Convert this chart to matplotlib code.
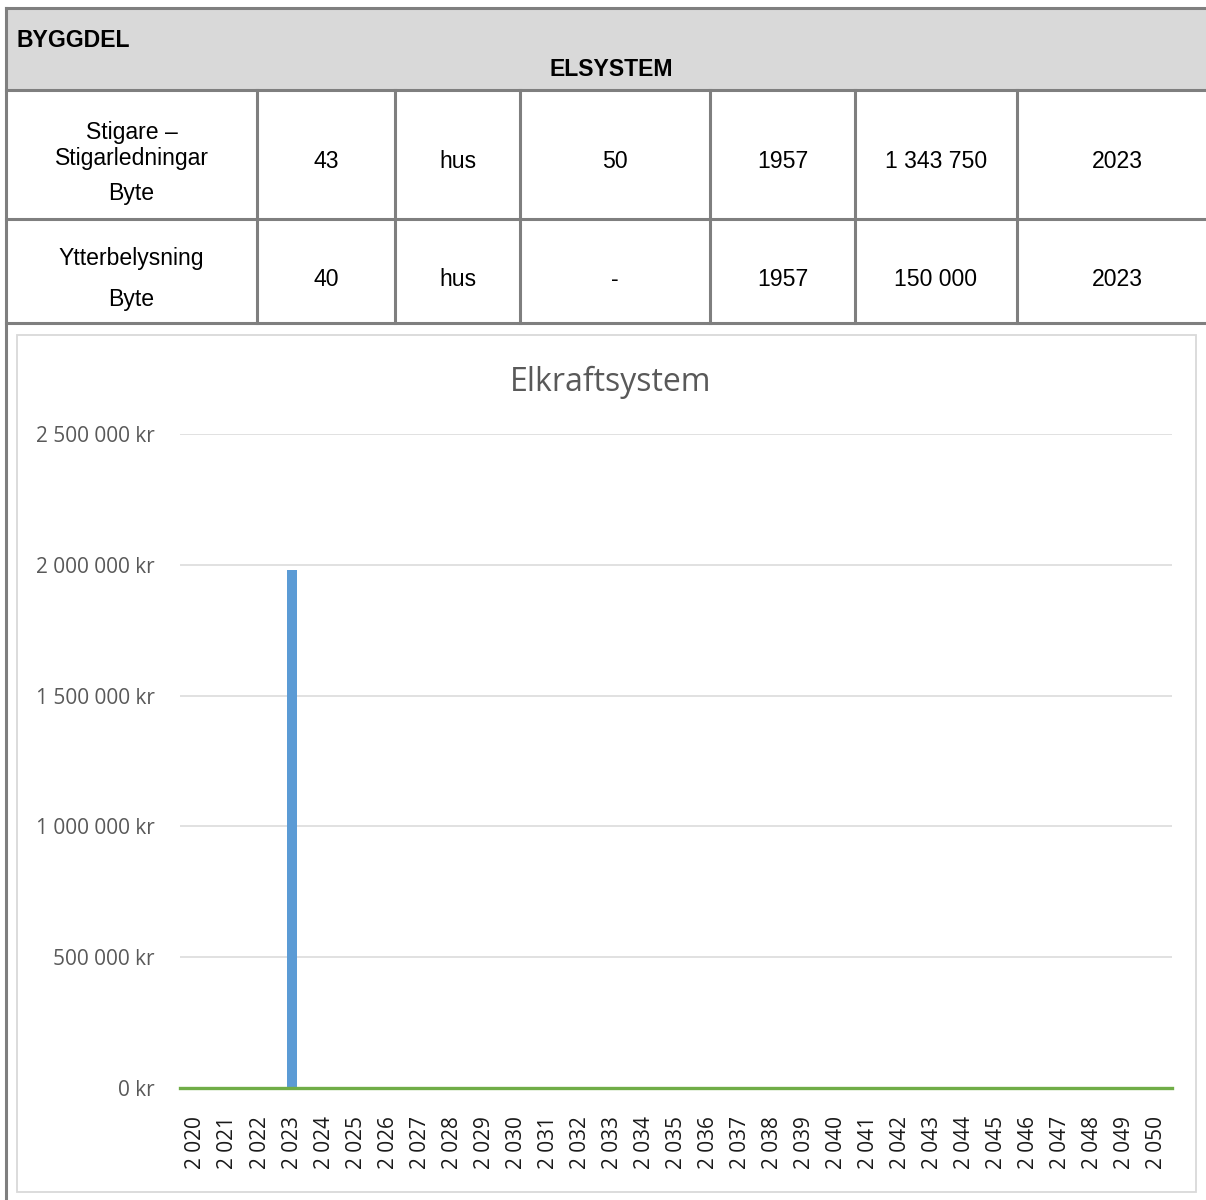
import matplotlib
matplotlib.use("Agg")
import matplotlib.pyplot as plt
from matplotlib.lines import Line2D
from matplotlib.patches import Rectangle

# ---- data ----
years = list(range(2020, 2051))
bar_values = [0, 0, 0, 1980000, 0, 0, 0, 0, 0, 0, 0,
              0, 0, 0, 0, 0, 0, 0, 0, 0, 0,
              0, 0, 0, 0, 0, 0, 0, 0, 0, 0]
y_ticks = [0, 500000, 1000000, 1500000, 2000000, 2500000]

header_left = "BYGGDEL"
header_center = "ELSYSTEM"
row_names = [["Stigare –", "Stigarledningar", "Byte"],
             ["Ytterbelysning", "Byte"]]
row_cells = [["43", "hus", "50", "1957", "1 343 750", "2023"],
             ["40", "hus", "-", "1957", "150 000", "2023"]]
chart_title = "Elkraftsystem"

W, H = 1206, 1200
fig = plt.figure(figsize=(W / 100, H / 100), dpi=100)
fig.patch.set_facecolor("white")


def fx(x):
    return x / W


def fy(y):
    return 1 - y / H


TABLE_LINE = "#7f7f7f"
LW = 2.2
TFONT = "Liberation Sans"
TSIZE = 16.6

# header band
fig.add_artist(Rectangle((fx(6), fy(90)), fx(1206) - fx(6), fy(8) - fy(90),
                         transform=fig.transFigure, facecolor="#d9d9d9",
                         edgecolor="none", zorder=0))

# horizontal rules
for y in [8, 90, 219, 323]:
    fig.add_artist(Line2D([fx(6), fx(1206)], [fy(y), fy(y)], color=TABLE_LINE,
                          lw=LW, transform=fig.transFigure))
# outer left rule
fig.add_artist(Line2D([fx(6), fx(6)], [fy(8), fy(1200)], color=TABLE_LINE,
                      lw=LW, transform=fig.transFigure))
# column rules
col_edges = [6, 257, 395, 520, 710, 855, 1017, 1218]
for x in col_edges[1:-1]:
    fig.add_artist(Line2D([fx(x), fx(x)], [fy(90), fy(323)], color=TABLE_LINE,
                          lw=LW, transform=fig.transFigure))

fig.text(fx(16), fy(47), header_left, ha="left", va="baseline", fontsize=TSIZE,
         fontweight="bold", family=TFONT, color="black")
fig.text(fx(611), fy(76), header_center, ha="center", va="baseline", fontsize=TSIZE,
         fontweight="bold", family=TFONT, color="black")

# baselines (pixels from top) of the first-column lines and of the value rows
name_baselines = [[139, 165, 200], [265, 306]]
row_baselines = [168, 286]
for names, ys in zip(row_names, name_baselines):
    xc = (col_edges[0] + col_edges[1]) / 2
    for s, y in zip(names, ys):
        fig.text(fx(xc), fy(y), s, ha="center", va="baseline", fontsize=TSIZE,
                 family=TFONT, color="black")
for cells, yb in zip(row_cells, row_baselines):
    for i, cell in enumerate(cells, start=1):
        xc = (col_edges[i] + col_edges[i + 1]) / 2
        fig.text(fx(xc), fy(yb), cell, ha="center", va="baseline", fontsize=TSIZE,
                 family=TFONT, color="black")

# chart frame
fig.add_artist(Rectangle((fx(17), fy(1192)), fx(1196) - fx(17), fy(335) - fy(1192),
                         transform=fig.transFigure, facecolor="none",
                         edgecolor="#d9d9d9", lw=1.3, zorder=1))

CFONT = "Open Sans"
fig.text(fx(611), fy(382), chart_title, ha="center", va="center", fontsize=23,
         family=CFONT, color="#595959")

# plot area
x0, x1, ytop, ybot = 180, 1172, 434, 1088
ax = fig.add_axes([fx(x0), fy(ybot), fx(x1) - fx(x0), fy(ytop) - fy(ybot)])
positions = list(range(len(years)))
ax.bar(positions, bar_values, width=0.31, color="#5b9bd5", zorder=2)
ax.set_xlim(-0.5, len(years) - 0.5)
ax.set_ylim(0, 2500000)
ax.set_yticks(y_ticks)
ax.set_yticklabels([f"{v:,} kr".replace(",", " ") for v in y_ticks],
                   family=CFONT, fontsize=15, color="#595959")
ax.set_xticks(positions)
ax.set_xticklabels([f"{y:,}".replace(",", " ") for y in years], rotation=90,
                   family=CFONT, fontsize=15, color="#1a1a1a")
ax.tick_params(axis="both", length=0)
ax.tick_params(axis="y", pad=18)
ax.tick_params(axis="x", pad=20)
ax.grid(axis="y", color="#d9d9d9", lw=1.1, zorder=0)
ax.set_axisbelow(True)
for side in ["top", "right", "left"]:
    ax.spines[side].set_visible(False)
ax.spines["bottom"].set_color("#70ad47")
ax.spines["bottom"].set_linewidth(2.4)
ax.spines["bottom"].set_zorder(3)
ax.set_facecolor("none")

fig.savefig("out.png", dpi=100)
